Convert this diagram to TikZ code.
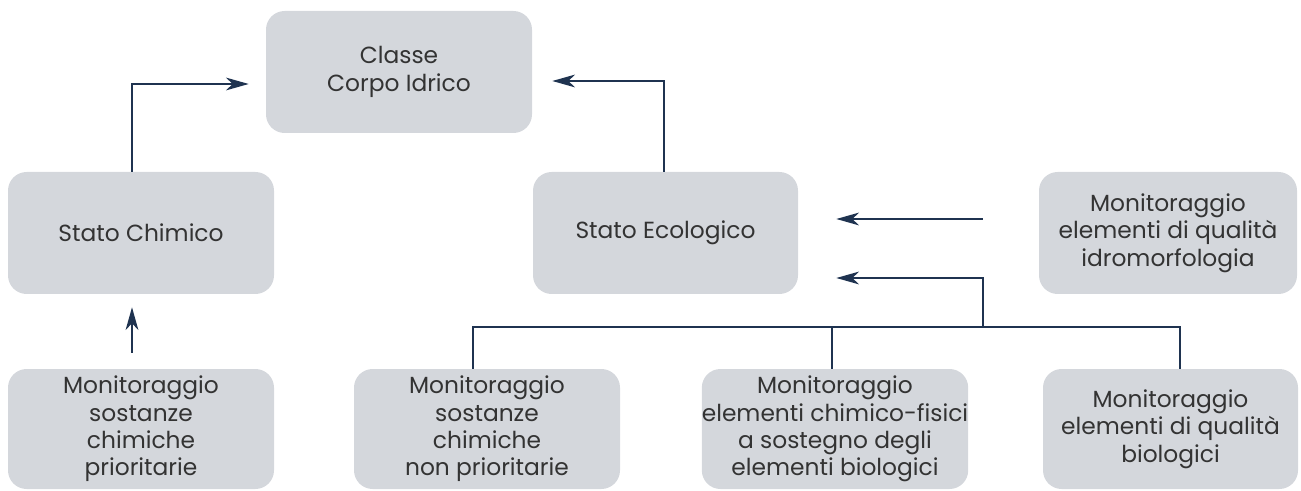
\documentclass[tikz,border=0pt]{standalone}
\usepackage{fontspec}
\setmainfont{Poppins}
\usetikzlibrary{arrows.meta,calc}
\definecolor{boxfill}{HTML}{D4D7DC}
\definecolor{linec}{HTML}{1F3350}
\definecolor{txt}{HTML}{333333}
\begin{document}
\begin{tikzpicture}[x=0.75pt,y=-0.75pt,
  box/.style={rectangle,rounded corners=14pt,fill=boxfill,draw=none,text=txt,align=center,
    inner sep=0pt,font=\fontsize{17.5}{20.5}\selectfont},
  conn/.style={draw=linec,line width=2pt},
  arr/.style={conn,-{Stealth[length=17pt,width=9.5pt,inset=5pt]}}]
\useasboundingbox (0,0) rectangle (1301,491);
\node[box,minimum width=266*0.75pt,minimum height=122*0.75pt] (classe) at (399,72) {Classe\\Corpo Idrico};
\node[box,minimum width=266*0.75pt,minimum height=122*0.75pt] (chimico) at (141,233) {Stato Chimico};
\node[box,minimum width=265*0.75pt,minimum height=122*0.75pt] (ecologico) at (665.5,233) {Stato Ecologico};
\node[box,minimum width=258*0.75pt,minimum height=122*0.75pt] (idro) at (1168,233) {Monitoraggio\\elementi di qualità\\idromorfologia};
\node[box,minimum width=266*0.75pt,minimum height=120*0.75pt] (mon1) at (141,429) {Monitoraggio\\sostanze\\chimiche\\prioritarie};
\node[box,minimum width=266*0.75pt,minimum height=120*0.75pt] (mon2) at (487,429) {Monitoraggio\\sostanze\\chimiche\\non prioritarie};
\node[box,minimum width=266*0.75pt,minimum height=120*0.75pt] (mon3) at (835,429) {Monitoraggio\\elementi chimico-fisici\\a sostegno degli\\elementi biologici};
\node[box,minimum width=255*0.75pt,minimum height=120*0.75pt] (mon4) at (1170.5,429) {Monitoraggio\\elementi di qualità\\biologici};
% Stato Chimico -> Classe
\coordinate (c1) at ($(classe.west)+(-17,12)$);
\draw[arr] ([xshift=-9*0.75pt]chimico.north) |- (c1);
% Stato Ecologico -> Classe
\coordinate (c2) at ($(classe.east)+(20,9)$);
\draw[arr] ([xshift=-1.5*0.75pt]ecologico.north) |- (c2);
% mon1 -> chimico
\coordinate (c3a) at ($(mon1.north)+(-9,-16)$);
\coordinate (c3b) at ($(chimico.south)+(-9,13)$);
\draw[arr] (c3a) -- (c3b);
% idro -> ecologico
\coordinate (c4a) at ($(idro.west)+(-56,-14)$);
\coordinate (c4b) at ($(ecologico.east)+(38,-14)$);
\draw[arr] (c4a) -- (c4b);
% bus
\coordinate (bus) at (983,327);
\coordinate (c5) at ($(ecologico.east)+(38,45)$);
\draw[arr] (bus) |- (c5);
\draw[conn] ([xshift=-14*0.75pt]mon2.north) |- ([xshift=9.5*0.75pt]mon4.north |- bus) -- ([xshift=9.5*0.75pt]mon4.north);
\draw[conn] ([xshift=-3*0.75pt]mon3.north) -- ([xshift=-3*0.75pt]mon3.north |- bus);
\end{tikzpicture}
\end{document}
